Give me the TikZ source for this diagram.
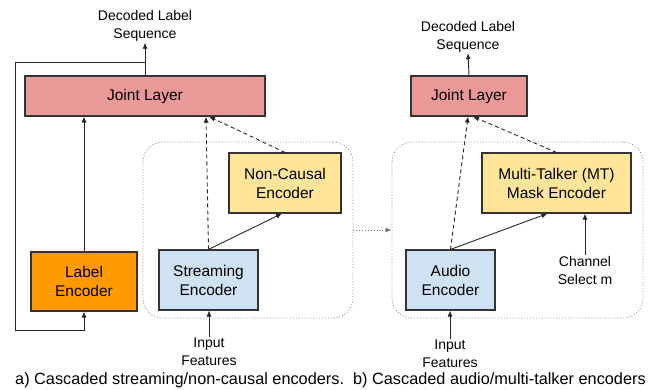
\documentclass[tikz,border=0pt]{standalone}
\usepackage{fontspec}
\setmainfont{Liberation Sans}
\usetikzlibrary{arrows.meta,calc}
\definecolor{jointc}{HTML}{EA9999}
\definecolor{labelc}{HTML}{FF9900}
\definecolor{ncc}{HTML}{FFE599}
\definecolor{strc}{HTML}{CFE2F3}
\definecolor{edgec}{HTML}{333333}
\tikzset{
  box/.style={draw=edgec, line width=1.1pt, align=center, inner sep=0pt, font=\fontsize{15.5}{19}\selectfont},
  lbl/.style={align=center, inner sep=1pt, font=\fontsize{14}{18}\selectfont},
  conn/.style={draw=black!85, line width=0.9pt, -{Latex[length=6pt,width=5pt]}},
  dconn/.style={conn, dash pattern=on 4pt off 3pt},
  container/.style={draw=black!45, line width=0.9pt, dotted, rounded corners=20pt, inner sep=0pt},
}
\begin{document}
\begin{tikzpicture}[x=1pt,y=-1pt]
\useasboundingbox (0,0) rectangle (651,389);
% containers
\node[container, minimum width=210, minimum height=176] (lc) at (248,230) {};
\node[container, minimum width=251, minimum height=176] (rc) at (517.5,230) {};
% left part
\node[box, fill=jointc, minimum width=240, minimum height=40] (jl) at (145,96) {Joint Layer};
\node[box, fill=labelc, minimum width=106, minimum height=59] (le) at (84,281.5) {Label\\Encoder};
\node[box, fill=strc, minimum width=99, minimum height=60] (se) at (208.5,280) {Streaming\\Encoder};
\node[box, fill=ncc, minimum width=112, minimum height=60] (nc) at (285,183) {Non-Causal\\Encoder};
\node[lbl] (decA) at (145,26) {Decoded Label\\Sequence};
\node[lbl] (inA) at (209,352) {Input\\Features};
% right part
\node[box, fill=jointc, minimum width=116, minimum height=40] (jr) at (469,96) {Joint Layer};
\node[box, fill=ncc, minimum width=149, minimum height=60] (mt) at (556.5,183) {Multi-Talker (MT)\\Mask Encoder};
\node[box, fill=strc, minimum width=89, minimum height=60] (ae) at (450.5,280) {Audio\\Encoder};
\node[lbl] (decB) at (468,36.5) {Decoded Label\\Sequence};
\node[lbl] (inB) at (450,354) {Input\\Features};
\node[lbl] (ch) at (585,270) {Channel\\Select m};
% caption
\node[inner sep=0pt, font=\fontsize{16.3}{18}\selectfont, anchor=center] (cap) at (330.5,380) {a) Cascaded streaming/non-causal encoders.\ \ b) Cascaded audio/multi-talker encoders};
% left connectors
\coordinate (fb) at ($(jl.north)+(0,-13)$);
\coordinate (fbc) at (15,330);
\draw[conn] (jl.north) -- (decA.south);
\draw[conn] (fb) -| (fbc) -| (le.south);
\draw[conn] (le.north) -- (le.north |- jl.south);
\draw[dconn] (se.north) -- ([xshift=61]jl.south);
\draw[dconn] (nc.north) -- ([xshift=64]jl.south);
\draw[conn] (se.north) -- ([xshift=-3]nc.south);
\draw[conn] (inA.north) -- (inA.north |- se.south);
% right connectors
\draw[conn] (jr.north) -- (decB.south);
\draw[dconn] (ae.north) -- ([xshift=-1]jr.south);
\draw[dconn] (mt.north) -- ([xshift=4]jr.south);
\draw[conn] (ae.north) -- ([xshift=-9]mt.south);
\draw[conn] (ch.north) -- (ch.north |- mt.south);
\draw[conn] (inB.north) -- (inB.north |- ae.south);
% between containers
\draw[draw=black!55, line width=0.9pt, dotted, -{Latex[length=6pt,width=5pt]}] (lc.east) -- (rc.west);
\end{tikzpicture}
\end{document}
